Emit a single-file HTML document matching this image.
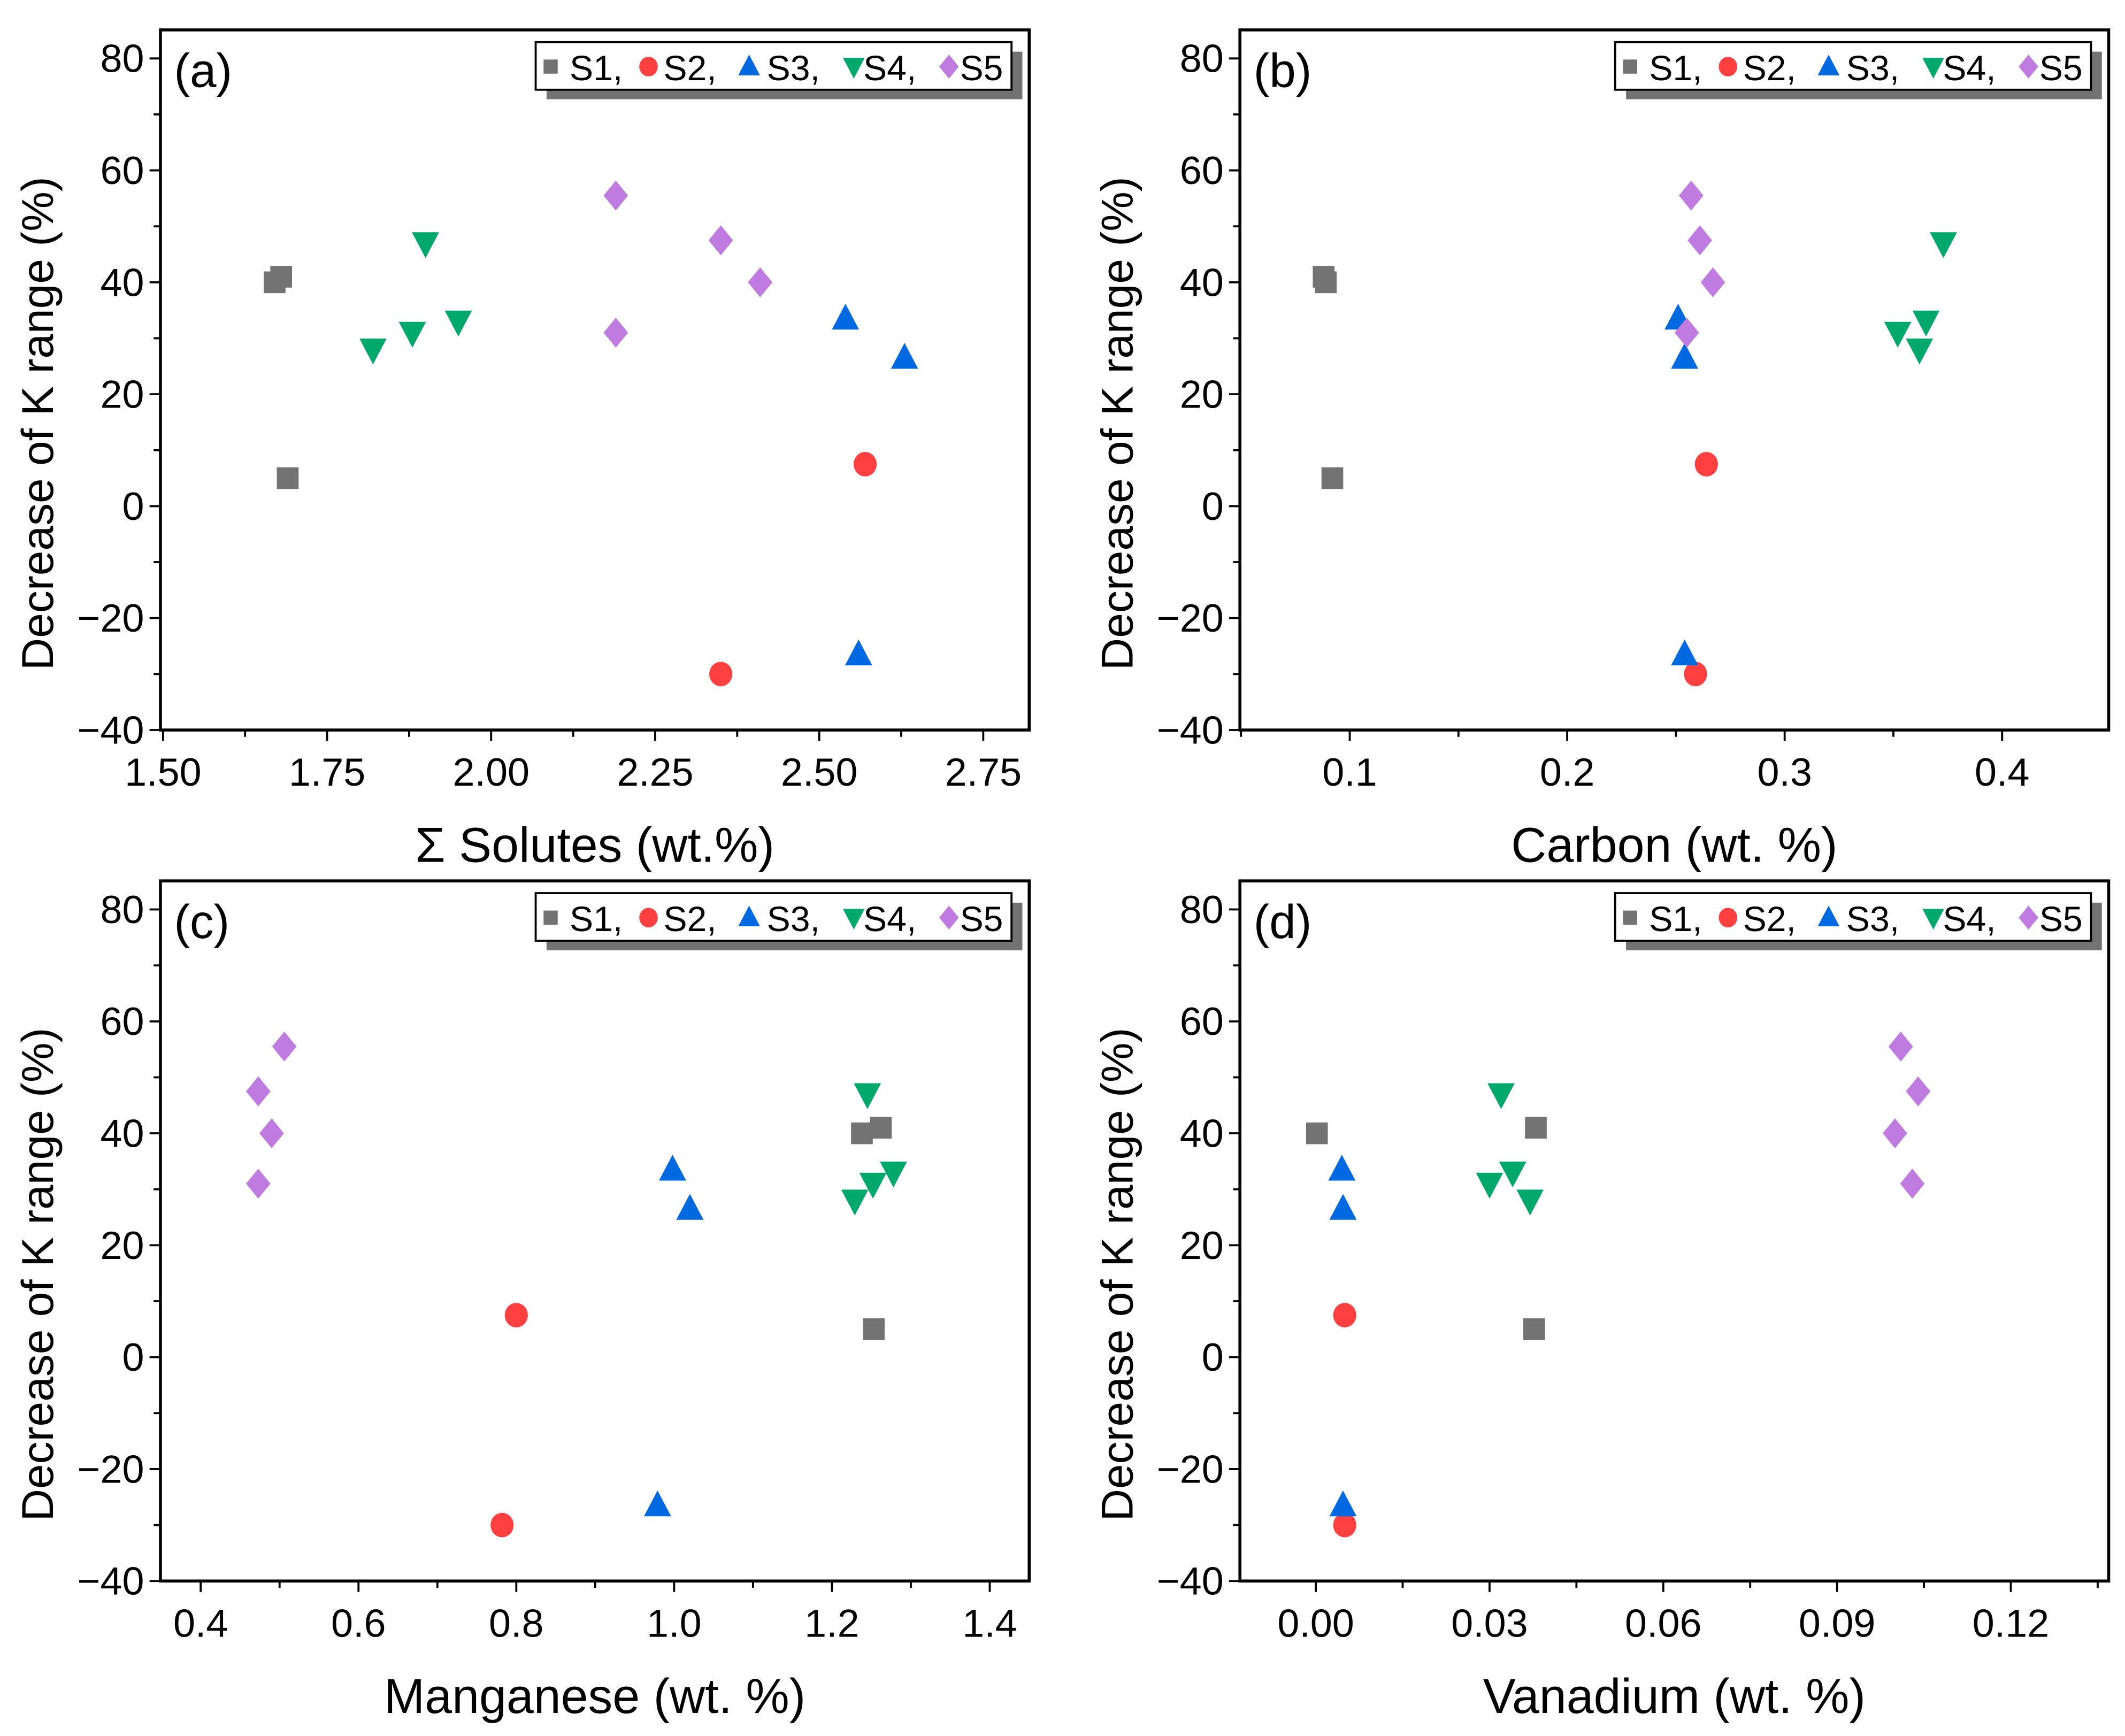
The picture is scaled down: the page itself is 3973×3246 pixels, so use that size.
<!DOCTYPE html>
<html><head><meta charset="utf-8"><style>
html,body{margin:0;padding:0;background:#fff}
svg{display:block}
text{font-family:"Liberation Sans",Arial,sans-serif;fill:#000}
</style></head><body>
<svg id="fig" width="3973" height="3246" viewBox="0 0 1563 1277" xmlns="http://www.w3.org/2000/svg"></svg>
<script>
// Panel (a) data
const aS1x=[1.67,1.68,1.69], aS1y=[40,41,5];
const aS2x=[2.35,2.57], aS2y=[-30,7.5];
const aS3x=[2.54,2.56,2.63], aS3y=[33.5,-26.5,26.5];
const aS4x=[1.82,1.88,1.90,1.95], aS4y=[28,31,47,33];
const aS5x=[2.19,2.19,2.35,2.41], aS5y=[55.5,31,47.5,40];
const aTicks=["1.50","1.75","2.00","2.25","2.50","2.75"];
// Panel (b) data
const bS1x=[0.088,0.089,0.092], bS1y=[41,40,5];
const bS2x=[0.264,0.259], bS2y=[7.5,-30];
const bS3x=[0.251,0.254,0.254], bS3y=[33.5,26.5,-26.5];
const bS4x=[0.352,0.365,0.362,0.373], bS4y=[31,33,28,47];
const bS5x=[0.257,0.261,0.267,0.255], bS5y=[55.5,47.5,40,31];
const bTicks=["0.1","0.2","0.3","0.4"];
// Panel (c) data
const cS1x=[1.238,1.262,1.253], cS1y=[40,41,5];
const cS2x=[0.80,0.782], cS2y=[7.5,-30];
const cS3x=[0.998,1.02,0.979], cS3y=[33.5,26.5,-26.5];
const cS4x=[1.245,1.229,1.252,1.278], cS4y=[47,28,31,33];
const cS5x=[0.473,0.49,0.506,0.473], cS5y=[47.5,40,55.5,31];
const cTicks=["0.4","0.6","0.8","1.0","1.2","1.4"];
// Panel (d) data
const dS1x=[0.0002,0.038,0.0377], dS1y=[40,41,5];
const dS2x=[0.005,0.005], dS2y=[7.5,-30];
const dS3x=[0.0045,0.0047,0.0047], dS3y=[33.5,26.5,-26.5];
const dS4x=[0.032,0.030,0.034,0.037], dS4y=[47,31,33,28];
const dS5x=[0.101,0.104,0.100,0.103], dS5y=[55.5,47.5,40,31];
const dTicks=["0.00","0.03","0.06","0.09","0.12"];
const yTicks=["-40","-20","0","20","40","60","80"];

const NS="http://www.w3.org/2000/svg";
const svg=document.getElementById('fig');
const colors=["#737373","#ff4040","#0069e0","#00a86b","#c07be0"];
const names=["S1","S2","S3","S4","S5"];
function el(tag,attrs,parent){const e=document.createElementNS(NS,tag);for(const k in attrs)e.setAttribute(k,attrs[k]);(parent||svg).appendChild(e);return e;}
function marker(g,k,cx,cy,s){
  let e;
  if(k===0) e=el('rect',{x:cx-8*s,y:cy-8*s,width:16*s,height:16*s,fill:colors[0]},g);
  else if(k===1) e=el('ellipse',{cx:cx,cy:cy,rx:8.5*s,ry:9*s,fill:colors[1]},g);
  else if(k===2) e=el('polygon',{points:`${cx},${cy-11*s} ${cx-10*s},${cy+8*s} ${cx+10*s},${cy+8*s}`,fill:colors[2]},g);
  else if(k===3) e=el('polygon',{points:`${cx},${cy+11*s} ${cx-10*s},${cy-8*s} ${cx+10*s},${cy-8*s}`,fill:colors[3]},g);
  else e=el('polygon',{points:`${cx},${cy-11*s} ${cx+9*s},${cy} ${cx},${cy+11*s} ${cx-9*s},${cy}`,fill:colors[4]},g);
  return e;
}
function panel(id,L,T,xmin,xmax,xTicks,xMinorStep,xs,ys,xtitle){
  const R=L+639,B=T+515,ymin=-40,ymax=85.1;
  const X=v=>L+(v-xmin)/(xmax-xmin)*(R-L);
  const Y=v=>B-(v-ymin)/(ymax-ymin)*(B-T);
  const g=el('g',{});
  
  
  for(let v=-40;v<=80;v+=10){
    const major=v%20===0;
    el('line',{x1:L,x2:L-(major?8:5),y1:Y(v),y2:Y(v),stroke:'#000','stroke-width':1.5},g);
  }
  yTicks.forEach(s=>{
    const t=el('text',{x:L-12,y:Y(+s)+10,'text-anchor':'end','font-size':29},g);
    t.textContent=s.replace('-','\u2212');
    
    
  });
  const x0=+xTicks[0], step=(+xTicks[1])-(+xTicks[0]);
  for(let v=x0-xMinorStep*Math.floor((x0-xmin)/xMinorStep+1e-9);v<=xmax+1e-9;v+=xMinorStep){
    const rel=Math.abs(((v-x0)/step)-Math.round((v-x0)/step));
    const major=rel<1e-6;
    el('line',{x1:X(v),x2:X(v),y1:B,y2:B+(major?8:5),stroke:'#000','stroke-width':1.5},g);
  }
  xTicks.forEach(s=>{
    const t=el('text',{x:X(+s),y:B+41,'text-anchor':'middle','font-size':29},g);
    t.textContent=s;
    
    
  });
  const f=el('rect',{x:L,y:T,width:R-L,height:B-T,fill:'none',stroke:'#000','stroke-width':2.2},g);
  
  
  for(let k=0;k<5;k++){
    const sg=el('g',{},g);
    
    
    xs[k].forEach((xv,i)=>{
      const m=marker(sg,k,X(xv),Y(ys[k][i]),1);
      
      
    });
  }
  const lg=el('g',{},g);
  
  
  const lx=L+276,ly=T+9;
  el('rect',{x:lx+8,y:ly+7,width:350,height:35,fill:'#737373'},lg);
  el('rect',{x:lx,y:ly,width:350,height:35,fill:'#fff',stroke:'#000','stroke-width':1.5},lg);
  const mpos=[11,83,157,234,304], tpos=[25,94,170,241,312];
  for(let k=0;k<5;k++){
    const m=marker(lg,k,lx+mpos[k],ly+18,k===0?0.65:0.8);
    
    
    const t=el('text',{x:lx+tpos[k],y:ly+28,'font-size':26},lg);
    t.textContent=names[k]+(k<4?',':'');
    
    
  }
  const pl=el('text',{x:L+10,y:T+42,'font-size':35},g);
  pl.textContent='('+id+')';
  
  
  const xt=el('text',{x:(L+R)/2,y:B+97,'text-anchor':'middle','font-size':36},g);
  xt.textContent=xtitle;
  
  
  const yt=el('text',{x:0,y:0,'text-anchor':'middle','font-size':33,transform:`translate(${L-79},${(T+B)/2+32}) rotate(-90)`},g);
  yt.textContent='Decrease of K range (%)';
  
  
}
panel('a',118,22,1.496,2.82,aTicks,0.125,[aS1x,aS2x,aS3x,aS4x,aS5x],[aS1y,aS2y,aS3y,aS4y,aS5y],'\u03A3 Solutes (wt.%)');
panel('b',912,22,0.0495,0.449,bTicks,0.05,[bS1x,bS2x,bS3x,bS4x,bS5x],[bS1y,bS2y,bS3y,bS4y,bS5y],'Carbon (wt. %)');
panel('c',118,648,0.349,1.45,cTicks,0.1,[cS1x,cS2x,cS3x,cS4x,cS5x],[cS1y,cS2y,cS3y,cS4y,cS5y],'Manganese (wt. %)');
panel('d',912,648,-0.0131,0.1369,dTicks,0.015,[dS1x,dS2x,dS3x,dS4x,dS5x],[dS1y,dS2y,dS3y,dS4y,dS5y],'Vanadium (wt. %)');
</script>
</body></html>
